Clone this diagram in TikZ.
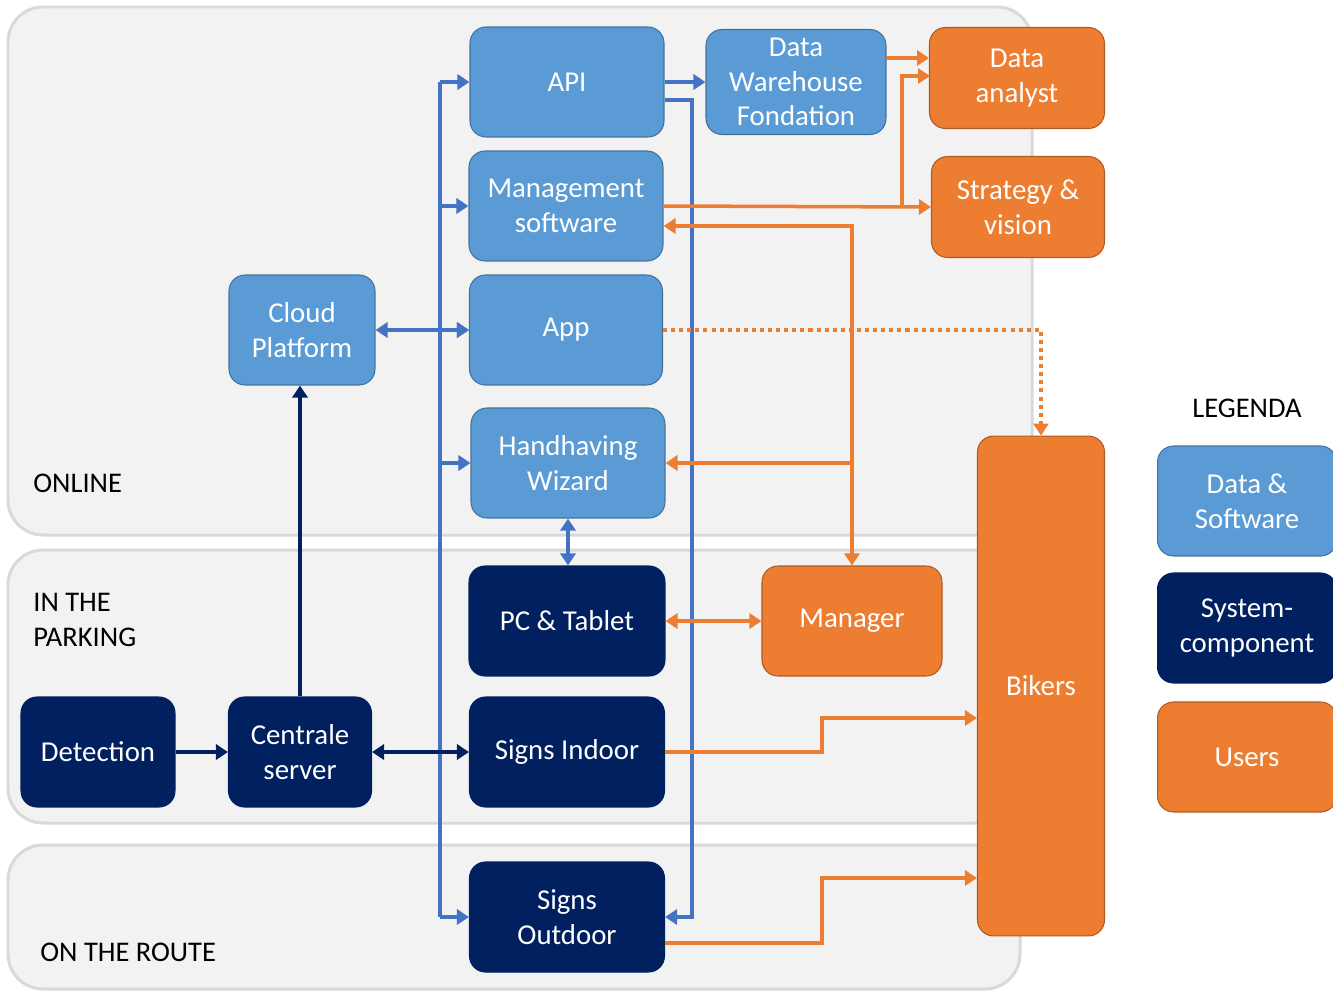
\documentclass[tikz,border=0pt]{standalone}
\usepackage{fontspec}
\setmainfont{Carlito}
\usetikzlibrary{arrows.meta}

\definecolor{dsblue}{HTML}{5B9BD5}
\definecolor{dsedge}{HTML}{41719C}
\definecolor{sysnavy}{HTML}{002060}
\definecolor{usrorange}{HTML}{ED7D31}
\definecolor{usredge}{HTML}{AE5A21}
\definecolor{linkblue}{HTML}{4472C4}
\definecolor{panelgray}{HTML}{F2F2F2}
\definecolor{paneledge}{HTML}{D9D9D9}

\begin{document}
\begin{tikzpicture}[x=0.02cm, y=-0.02cm,
  panel/.style={fill=panelgray, draw=paneledge, line width=1.7pt, rounded corners=0.7cm},
  box/.style={rounded corners=0.32cm, line width=0.6pt, align=center, text=white, inner sep=0pt,
    font=\fontsize{16.4}{19.8}\selectfont},
  dsbox/.style={box, fill=dsblue, draw=dsedge},
  sysbox/.style={box, fill=sysnavy, draw=sysnavy},
  usrbox/.style={box, fill=usrorange, draw=usredge},
  zone/.style={anchor=west, align=left, inner sep=0pt, font=\fontsize{16.2}{19.8}\selectfont},
  tip/.style={-{Triangle[length=0.24cm, width=0.3cm]}},
  tips/.style={{Triangle[length=0.24cm, width=0.3cm]}-{Triangle[length=0.24cm, width=0.3cm]}},
  bline/.style={draw=linkblue, line width=2.2pt},
  oline/.style={draw=usrorange, line width=2pt},
  nline/.style={draw=sysnavy, line width=2.2pt}]
  \useasboundingbox (0,0) rectangle (1333,991);

  % zones
  \draw[panel] (8,7) rectangle (1032,535);
  \draw[panel] (8,550) rectangle (1010,823);
  \draw[panel] (8,845) rectangle (1020,989);
  \node[zone] (online) at (33,483) {ONLINE};
  \node[zone] (parking) at (33,620) {IN THE\\PARKING};
  \node[zone] (route) at (40,952) {ON THE ROUTE};

  % data & software
  \node[dsbox, minimum width=3.88cm, minimum height=2.2cm] (api) at (567,82) {API};
  \node[dsbox, minimum width=3.6cm, minimum height=2.1cm] (dwf) at (796,82) {Data\\Warehouse\\Fondation};
  \node[dsbox, minimum width=3.88cm, minimum height=2.2cm] (mgmt) at (566,206) {Management\\software};
  \node[dsbox, minimum width=2.92cm, minimum height=2.2cm] (cloud) at (302,330) {Cloud\\Platform};
  \node[dsbox, minimum width=3.86cm, minimum height=2.2cm] (app) at (566,330) {App};
  \node[dsbox, minimum width=3.88cm, minimum height=2.2cm] (hand) at (568,463) {Handhaving\\Wizard};

  % system components
  \node[sysbox, minimum width=3.92cm, minimum height=2.2cm] (pc) at (567,621) {PC \& Tablet};
  \node[sysbox, minimum width=3.08cm, minimum height=2.2cm] (det) at (98,752) {Detection};
  \node[sysbox, minimum width=2.86cm, minimum height=2.2cm] (cen) at (300,752) {Centrale\\server};
  \node[sysbox, minimum width=3.9cm, minimum height=2.2cm] (sin) at (567,752) {Signs Indoor};
  \node[sysbox, minimum width=3.9cm, minimum height=2.2cm] (sout) at (567,917) {Signs\\Outdoor};

  % users
  \node[usrbox, minimum width=3.5cm, minimum height=2.02cm] (analyst) at (1017,78) {Data\\analyst};
  \node[usrbox, minimum width=3.46cm, minimum height=2.02cm] (strat) at (1018,207) {Strategy \&\\vision};
  \node[usrbox, minimum width=3.6cm, minimum height=2.2cm] (manager) at (852,621) {Manager};
  \node[usrbox, minimum width=2.54cm, minimum height=10cm] (bikers) at (1041,686) {Bikers};

  % legend
  \node[font=\fontsize{16.2}{19.8}\selectfont, inner sep=0pt] (legenda) at (1247,408) {LEGENDA};
  \node[dsbox, minimum width=3.58cm, minimum height=2.2cm] (legds) at (1247,501) {Data \&\\Software};
  \node[sysbox, minimum width=3.58cm, minimum height=2.2cm] (legsys) at (1247,628) {System-\\component};
  \node[usrbox, minimum width=3.58cm, minimum height=2.2cm] (legusr) at (1247,757) {Users};

  % blue links
  \coordinate (lbus) at (440,82);
  \coordinate (rbus) at (692,100);
  \draw[bline] (lbus) -- (lbus |- sout.west);
  \foreach \n in {api,mgmt,app,hand,sout}
    \draw[bline, tip] (lbus |- \n.west) -- (\n.west);
  \draw[bline, tips] (cloud.east) -- (cloud.east -| app.west);
  \draw[bline, tip] (api.east) -- (dwf.west);
  \draw[bline, tip] (api.east |- rbus) -- (rbus) |- (sout.east);
  \draw[bline, tips] (hand.south) -- (hand.south |- pc.north);

  % navy links
  \draw[nline, tip] (det.east) -- (cen.west);
  \draw[nline, tips] (cen.east) -- (sin.west);
  \draw[nline, tip] (cen.north) -- (cen.north |- cloud.south);

  % orange links
  \coordinate (dwfout) at (886,58);
  \coordinate (split) at (902,206);
  \coordinate (anin) at (930,76);
  \coordinate (mbus) at (851,226);
  \draw[oline, tip] (dwfout) -- (analyst.west |- dwfout);
  \draw[oline, tip] (mgmt.east) -- (strat.west);
  \draw[oline, tip] (split) |- (anin);
  \draw[oline, tips] (mgmt.east |- mbus) -| (manager.north);
  \draw[oline, tip] (mbus |- hand.east) -- (hand.east);
  \draw[oline, tips] (pc.east) -- (manager.west);
  \draw[oline, dash pattern=on 2.3pt off 2.3pt, tip] (app.east) -| (bikers.north);
  \coordinate (step1) at (822,718);
  \coordinate (step2) at (822,878);
  \coordinate (soutout) at (665,943);
  \draw[oline, tip] (sin.east) -| (step1) -- (bikers.west |- step1);
  \draw[oline, tip] (soutout) -| (step2) -- (bikers.west |- step2);
\end{tikzpicture}
\end{document}
